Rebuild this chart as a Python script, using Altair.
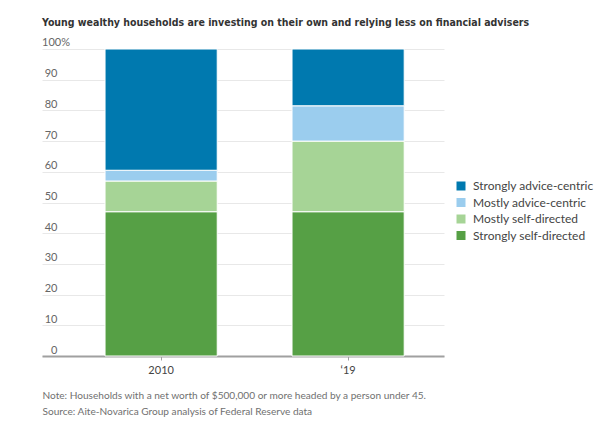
import altair as alt
import pandas as pd

years = ["2010", "‘19"]
categories = ["Strongly advice-centric", "Mostly advice-centric", "Mostly self-directed", "Strongly self-directed"]
colors = ["#0079af", "#9bcdee", "#a6d496", "#56a045"]
strongly_self = [47, 47]
mostly_self = [10, 23]
mostly_advice = [3.5, 11.5]
strongly_advice = [39.5, 18.5]

series = {
    "Strongly self-directed": strongly_self,
    "Mostly self-directed": mostly_self,
    "Mostly advice-centric": mostly_advice,
    "Strongly advice-centric": strongly_advice,
}
rows = []
for cat, vals in series.items():
    for yr, v in zip(years, vals):
        rows.append({"year": yr, "category": cat, "value": v, "order": categories[::-1].index(cat)})
df = pd.DataFrame(rows)

FONT = "Lato"
TITLE_FONT = "DejaVu Sans Condensed, Roboto"

y_axis = alt.Axis(title=None, values=list(range(0, 101, 10)), labelOverlap=False,
                  labelExpr="datum.value == 100 ? '' : datum.label",
                  labelAlign="right", labelBaseline="alphabetic", labelPadding=-15,
                  labelOffset=-3, labelFont=FONT, labelFontSize=11, labelColor="#666",
                  ticks=False, domain=False, grid=True, gridColor="#e8e8e8",
                  gridWidth=1)
y_scale = alt.Scale(domain=[0, 100], nice=False)

bars = alt.Chart(df).mark_bar(stroke="white", strokeWidth=1).encode(
    x=alt.X("year:N", sort=years,
            scale=alt.Scale(paddingInner=0.4, paddingOuter=0.275, align=0.613),
            axis=alt.Axis(title=["Note: Households with a net worth of $500,000 or more headed by a person under 45.",
                                 "Source: Aite-Novarica Group analysis of Federal Reserve data"],
                          titleAnchor="start", titleAlign="left", titleX=0, titleY=42,
                          titleBaseline="alphabetic", titleFont=FONT, titleFontSize=10.1,
                          titleFontWeight="normal", titleColor="#707070", titleLineHeight=16,
                          labelAngle=0, labelFont=FONT, labelFontSize=11, labelColor="#444",
                          labelPadding=4, domainColor="#a0a0a0", domainWidth=2,
                          tickColor="#a0a0a0", tickSize=4, tickWidth=1)),
    y=alt.Y("value:Q", stack="zero", scale=y_scale, axis=y_axis),
    color=alt.Color("category:N", sort=categories,
                    scale=alt.Scale(domain=categories, range=colors),
                    legend=alt.Legend(title=None, orient="none", legendX=413, legendY=131,
                                      symbolType="square", symbolSize=81, symbolStrokeWidth=0,
                                      labelFont=FONT, labelFontSize=12, labelColor="#444",
                                      rowPadding=4.5, labelOffset=6)),
    order=alt.Order("order:Q"),
)

pct = alt.Chart(pd.DataFrame({"v": [100], "t": ["100%"]})).mark_text(
    align="left", baseline="alphabetic", dy=-3, font=FONT, fontSize=11, color="#666"
).encode(y=alt.Y("v:Q", scale=y_scale, axis=y_axis), x=alt.value(0), text="t:N")

chart = alt.layer(bars, pct).properties(
    width=402, height=307,
    title=alt.TitleParams(
        "Young wealthy households are investing on their own and relying less on financial advisers",
        anchor="start", font=TITLE_FONT, fontSize=10.5, fontWeight="bold", color="#333",
        offset=9, frame="group"),
    padding={"left": 34, "top": 41, "right": 162, "bottom": 67},
    autosize=alt.AutoSizeParams(type="none"),
).configure_view(stroke=None)

chart.save("out.html", embed_options={"renderer": "svg", "actions": False})
